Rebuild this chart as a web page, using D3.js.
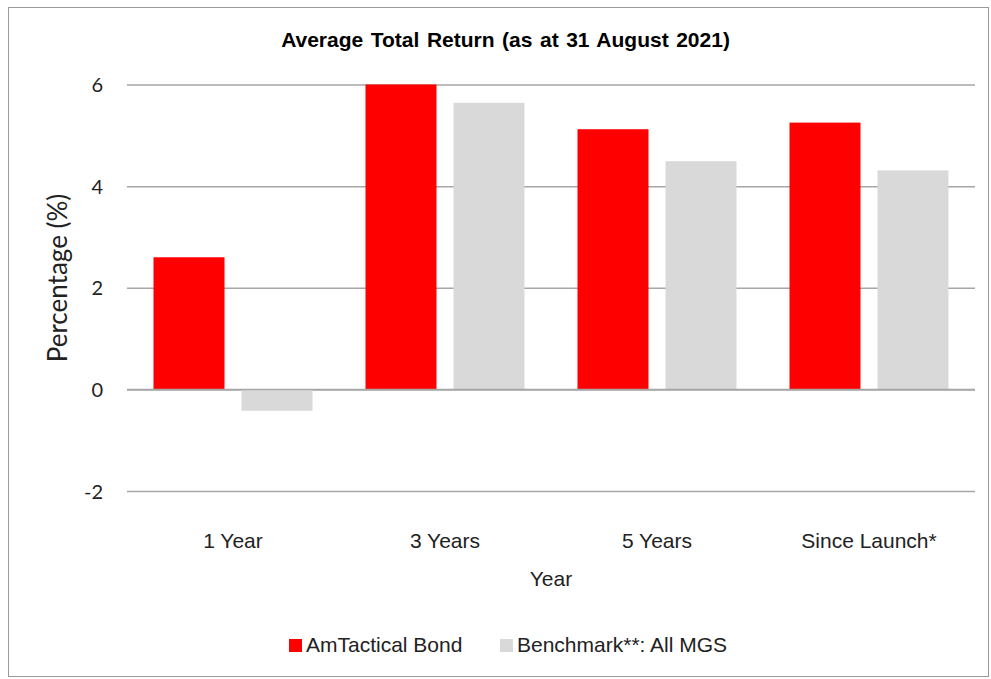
<!DOCTYPE html>
<html>
<head>
<meta charset="utf-8">
<script src="https://cdn.jsdelivr.net/npm/d3@7"></script>
<style>
  html, body { margin: 0; padding: 0; background: #fff; }
  svg { display: block; }
</style>
</head>
<body>
<svg id="chart" width="991" height="679"></svg>
<script>
const categories = ["1 Year", "3 Years", "5 Years", "Since Launch*"];
const seriesNames = ["AmTactical Bond", "Benchmark**: All MGS"];
const amTactical = [2.60, 6.00, 5.12, 5.25];
const benchmark = [-0.42, 5.64, 4.49, 4.31];
const yTicks = [-2, 0, 2, 4, 6];
const colors = ["#ff0000", "#d9d9d9"];
const titleText = "Average Total Return (as at 31 August 2021)";
const xTitle = "Year";
const yTitle = "Percentage (%)";

const seriesValues = [amTactical, benchmark];
const rows = categories.map((c, i) => ({
  cat: c,
  vals: seriesNames.map((s, j) => ({ name: s, value: seriesValues[j][i], color: colors[j] }))
}));

const svg = d3.select("#chart");
const ARIAL = "'Liberation Sans', Arial, sans-serif";
const CALIBRI = "Lato, 'Open Sans', sans-serif";

// outer border
svg.append("rect").attr("x", 8.5).attr("y", 7.5).attr("width", 980).attr("height", 669)
  .attr("fill", "#fff").attr("stroke", "#9a9a9a").attr("stroke-width", 1);

const plotLeft = 127, plotRight = 975;
const y = d3.scaleLinear().domain([-2, 6]).range([491, 84.5]);
const x0 = d3.scaleBand().domain(categories).range([plotLeft, plotRight]).paddingInner(0).paddingOuter(0);
const x1 = d3.scaleBand().domain(seriesNames).range([0, x0.bandwidth()]).paddingInner(17 / 88).paddingOuter(0.301);

// gridlines
const yAxis = d3.axisLeft(y).tickValues(yTicks).tickSize(-(plotRight - plotLeft)).tickPadding(24).tickFormat(d => String(d));
const gAxis = svg.append("g").attr("transform", `translate(${plotLeft},0)`).call(yAxis);
gAxis.select(".domain").remove();
gAxis.selectAll(".tick line").attr("stroke", "#a6a6a6").attr("stroke-width", 1.5);
gAxis.selectAll(".tick text").attr("font-family", CALIBRI).attr("font-size", 20).attr("fill", "#222").attr("dy", "0.35em");

// bars
const groups = svg.append("g").selectAll("g").data(rows).join("g")
  .attr("transform", d => `translate(${x0(d.cat)},0)`);
groups.selectAll("rect").data(d => d.vals).join("rect")
  .attr("x", d => x1(d.name))
  .attr("width", x1.bandwidth())
  .attr("y", d => y(Math.max(0, d.value)))
  .attr("height", d => Math.abs(y(d.value) - y(0)))
  .attr("fill", d => d.color);

// redraw zero line on top of bars
svg.append("line").attr("x1", plotLeft).attr("x2", plotRight).attr("y1", y(0)).attr("y2", y(0))
  .attr("stroke", "#a6a6a6").attr("stroke-width", 1.5);

// category labels
svg.append("g").selectAll("text").data(categories).join("text")
  .attr("x", d => x0(d) + x0.bandwidth() / 2)
  .attr("y", 548)
  .attr("text-anchor", "middle")
  .attr("font-family", ARIAL).attr("font-size", 21).attr("fill", "#222")
  .text(d => d);

// title
svg.append("text").attr("x", 505.5).attr("y", 47).attr("text-anchor", "middle")
  .attr("font-family", ARIAL).attr("font-size", 21).attr("font-weight", "bold").attr("fill", "#000")
  .attr("word-spacing", 1.7)
  .text(titleText);

// x axis title
svg.append("text").attr("x", 551).attr("y", 586).attr("text-anchor", "middle")
  .attr("font-family", ARIAL).attr("font-size", 21).attr("fill", "#222")
  .text(xTitle);

// y axis title
svg.append("text").attr("transform", "translate(67,278) rotate(-90)").attr("text-anchor", "middle")
  .attr("font-family", CALIBRI).attr("font-size", 26).attr("fill", "#222")
  .text(yTitle);

// legend
const legendItems = [{ x: 289, name: seriesNames[0], color: colors[0] }, { x: 500, name: seriesNames[1], color: colors[1] }];
const lg = svg.append("g").selectAll("g").data(legendItems).join("g").attr("transform", d => `translate(${d.x},0)`);
lg.append("rect").attr("x", 0).attr("y", 639).attr("width", 13).attr("height", 13).attr("fill", d => d.color);
lg.append("text").attr("x", 17).attr("y", 652).attr("font-family", ARIAL).attr("font-size", 21).attr("fill", "#222")
  .text(d => d.name);
</script>
</body>
</html>
